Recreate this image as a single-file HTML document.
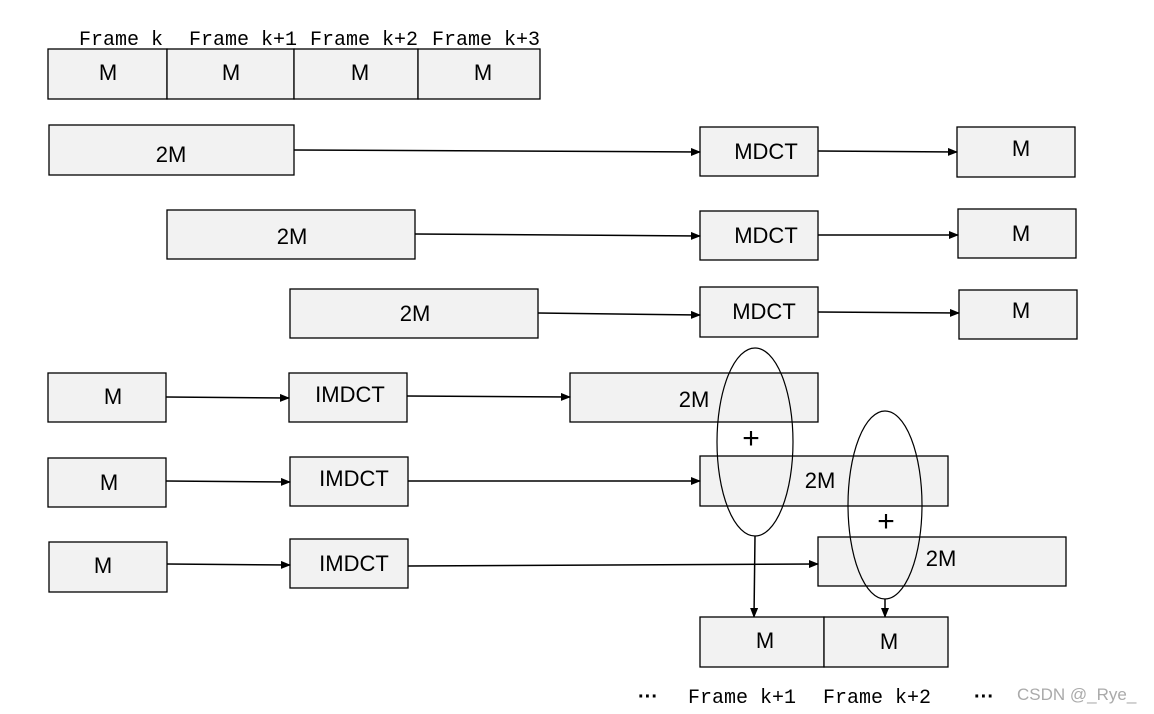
<!DOCTYPE html>
<html><head><meta charset="utf-8"><style>
html,body{margin:0;padding:0;background:#fff;}
svg{display:block;}
.b{fill:#f2f2f2;stroke:#000;stroke-width:1.3;}
.t{font-family:"Liberation Sans",sans-serif;font-size:22px;fill:#000;text-anchor:middle;}
.s{font-family:"Liberation Mono",monospace;font-size:20px;fill:#000;}
.l{stroke:#000;stroke-width:1.5;fill:none;}
</style></head><body>
<svg width="1154" height="714" viewBox="0 0 1154 714" xmlns="http://www.w3.org/2000/svg">
<defs><marker id="a" markerWidth="10" markerHeight="8" refX="9" refY="4" orient="auto" markerUnits="userSpaceOnUse"><path d="M0,0 L10,4 L0,8 z" fill="#000"/></marker></defs>
<text class="s" x="79" y="45">Frame k</text>
<text class="s" x="189" y="45">Frame k+1</text>
<text class="s" x="310" y="45">Frame k+2</text>
<text class="s" x="432" y="45">Frame k+3</text>
<rect class="b" x="48" y="49" width="119" height="50"/>
<rect class="b" x="167" y="49" width="127" height="50"/>
<rect class="b" x="294" y="49" width="124" height="50"/>
<rect class="b" x="418" y="49" width="122" height="50"/>
<text class="t" x="108" y="80">M</text><text class="t" x="231" y="80">M</text><text class="t" x="360" y="80">M</text><text class="t" x="483" y="80">M</text>
<rect class="b" x="49" y="125" width="245" height="50"/><text class="t" x="171" y="162">2M</text>
<rect class="b" x="700" y="127" width="118" height="49"/><text class="t" x="766" y="159">MDCT</text>
<rect class="b" x="957" y="127" width="118" height="50"/><text class="t" x="1021" y="156">M</text>
<line class="l" x1="294" y1="150" x2="700" y2="152" marker-end="url(#a)"/>
<line class="l" x1="818" y1="151" x2="957" y2="152" marker-end="url(#a)"/>
<rect class="b" x="167" y="210" width="248" height="49"/><text class="t" x="292" y="244">2M</text>
<rect class="b" x="700" y="211" width="118" height="49"/><text class="t" x="766" y="243">MDCT</text>
<rect class="b" x="958" y="209" width="118" height="49"/><text class="t" x="1021" y="241">M</text>
<line class="l" x1="415" y1="234" x2="700" y2="236" marker-end="url(#a)"/>
<line class="l" x1="818" y1="235" x2="958" y2="235" marker-end="url(#a)"/>
<rect class="b" x="290" y="289" width="248" height="49"/><text class="t" x="415" y="321">2M</text>
<rect class="b" x="700" y="287" width="118" height="50"/><text class="t" x="764" y="319">MDCT</text>
<rect class="b" x="959" y="290" width="118" height="49"/><text class="t" x="1021" y="318">M</text>
<line class="l" x1="538" y1="313" x2="700" y2="315" marker-end="url(#a)"/>
<line class="l" x1="818" y1="312" x2="959" y2="313" marker-end="url(#a)"/>
<rect class="b" x="48" y="373" width="118" height="49"/><text class="t" x="113" y="404">M</text>
<rect class="b" x="289" y="373" width="118" height="49"/><text class="t" x="350" y="402">IMDCT</text>
<rect class="b" x="570" y="373" width="248" height="49"/><text class="t" x="694" y="407">2M</text>
<line class="l" x1="166" y1="397" x2="289" y2="398" marker-end="url(#a)"/>
<line class="l" x1="407" y1="396" x2="570" y2="397" marker-end="url(#a)"/>
<rect class="b" x="48" y="458" width="118" height="49"/><text class="t" x="109" y="490">M</text>
<rect class="b" x="290" y="457" width="118" height="49"/><text class="t" x="354" y="486">IMDCT</text>
<rect class="b" x="700" y="456" width="248" height="50"/><text class="t" x="820" y="488">2M</text>
<line class="l" x1="166" y1="481" x2="290" y2="482" marker-end="url(#a)"/>
<line class="l" x1="408" y1="481" x2="700" y2="481" marker-end="url(#a)"/>
<rect class="b" x="49" y="542" width="118" height="50"/><text class="t" x="103" y="573">M</text>
<rect class="b" x="290" y="539" width="118" height="49"/><text class="t" x="354" y="571">IMDCT</text>
<rect class="b" x="818" y="537" width="248" height="49"/><text class="t" x="941" y="566">2M</text>
<line class="l" x1="167" y1="564" x2="290" y2="565" marker-end="url(#a)"/>
<line class="l" x1="408" y1="566" x2="818" y2="564" marker-end="url(#a)"/>
<ellipse cx="755" cy="442" rx="38" ry="94" fill="none" stroke="#000" stroke-width="1.2"/>
<ellipse cx="885" cy="505" rx="37" ry="94" fill="none" stroke="#000" stroke-width="1.2"/>
<text x="751" y="448" font-family="Liberation Sans,sans-serif" font-size="30" text-anchor="middle">+</text>
<text x="886" y="531" font-family="Liberation Sans,sans-serif" font-size="30" text-anchor="middle">+</text>
<line class="l" x1="755" y1="536" x2="754" y2="617" marker-end="url(#a)" stroke-width="1.2"/>
<line class="l" x1="885" y1="599" x2="885" y2="617" marker-end="url(#a)" stroke-width="1.2"/>
<rect class="b" x="700" y="617" width="124" height="50"/>
<rect class="b" x="824" y="617" width="124" height="50"/>
<text class="t" x="765" y="648">M</text><text class="t" x="889" y="649">M</text>
<text x="638" y="703" font-family="Liberation Sans,sans-serif" font-size="20" font-weight="bold">···</text>
<text class="s" x="688" y="703">Frame k+1</text>
<text class="s" x="823" y="703">Frame k+2</text>
<text x="974" y="703" font-family="Liberation Sans,sans-serif" font-size="20" font-weight="bold">···</text>
<text x="1017" y="700" font-family="Liberation Sans,sans-serif" font-size="17" fill="#aaa">CSDN @_Rye_</text>
</svg>
</body></html>
